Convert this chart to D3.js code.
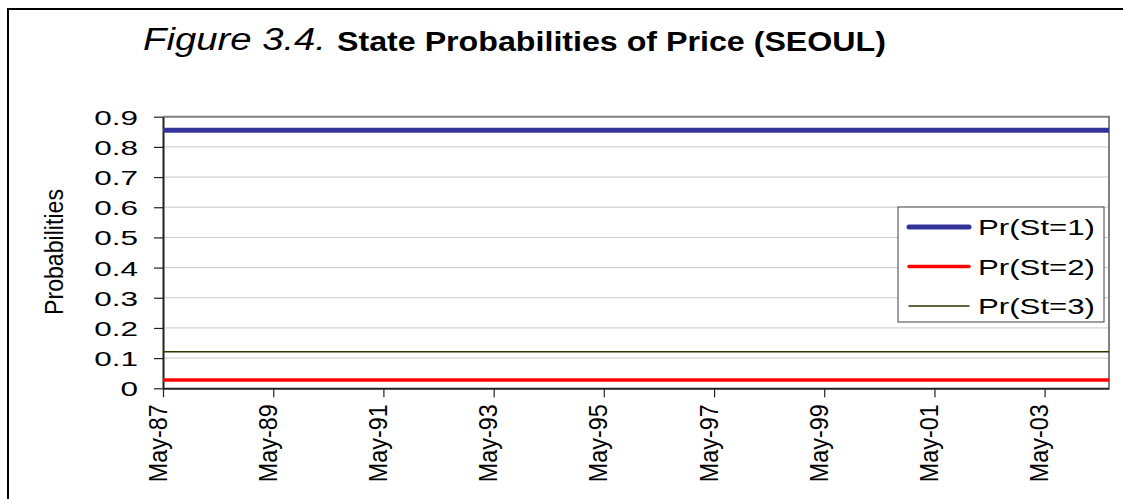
<!DOCTYPE html>
<html>
<head>
<meta charset="utf-8">
<script src="https://cdn.jsdelivr.net/npm/d3@7"></script>
<style>
  body { margin: 0; background: #fff; }
  svg { display: block; font-family: "Liberation Sans", Arial, sans-serif; }
</style>
</head>
<body>
<svg width="1123" height="499"></svg>
<script>
// data
const months = ["May-87", "Jul-04"];
const pr1 = [0.855, 0.855];
const pr2 = [0.0275, 0.0275];
const pr3 = [0.121, 0.121];
const seriesNames = ["Pr(St=1)", "Pr(St=2)", "Pr(St=3)"];
const xTickLabels = ["May-87", "May-89", "May-91", "May-93", "May-95", "May-97", "May-99", "May-01", "May-03"];
const yTicks = [0, 0.1, 0.2, 0.3, 0.4, 0.5, 0.6, 0.7, 0.8, 0.9];

const parse = d3.timeParse("%b-%y");
const svg = d3.select("svg");

const plotLeft = 163, plotRight = 1109, plotTop = 116.7, plotBottom = 388.3;

const x = d3.scaleTime()
  .domain([parse(months[0]), parse(months[months.length - 1])])
  .range([plotLeft, plotRight]);
const y = d3.scaleLinear().domain([0, 0.9]).range([plotBottom, plotTop]);

// outer frame
svg.append("rect")
  .attr("x", 8).attr("y", 9)
  .attr("width", 1130).attr("height", 510)
  .attr("fill", "#fff").attr("stroke", "#000").attr("stroke-width", 2);

// title
svg.append("text")
  .attr("x", 143).attr("y", 50)
  .attr("font-size", 31).attr("font-style", "italic")
  .attr("textLength", 183).attr("lengthAdjust", "spacingAndGlyphs")
  .text("Figure 3.4.");
svg.append("text")
  .attr("x", 337).attr("y", 51)
  .attr("font-size", 27).attr("font-weight", "bold")
  .attr("textLength", 549).attr("lengthAdjust", "spacingAndGlyphs")
  .text("State Probabilities of Price (SEOUL)");

// gridlines
svg.append("g")
  .selectAll("line")
  .data(yTicks.filter(d => d > 0 && d < 0.9))
  .join("line")
  .attr("x1", plotLeft).attr("x2", plotRight)
  .attr("y1", d => y(d)).attr("y2", d => y(d))
  .attr("stroke", "#c8c8c8").attr("stroke-width", 1);

// plot border top/right
svg.append("path")
  .attr("d", `M${plotLeft},${plotTop}H${plotRight}V${plotBottom}`)
  .attr("fill", "none").attr("stroke", "#808080").attr("stroke-width", 2);

// y axis
const yAxis = svg.append("g")
  .attr("transform", `translate(${plotLeft},0)`)
  .call(d3.axisLeft(y).tickValues(yTicks).tickSize(9).tickSizeOuter(0).tickFormat(d3.format("")));
yAxis.select(".domain").attr("stroke", "#222").attr("stroke-width", 2);
yAxis.selectAll(".tick line").attr("stroke", "#222").attr("stroke-width", 1.2);
yAxis.selectAll("text")
  .attr("x", null).attr("dy", null)
  .attr("transform", "translate(-25,7.5) scale(1.5,1)")
  .attr("font-size", 21).attr("fill", "#000")
  .attr("font-family", "Liberation Sans, Arial, sans-serif");

// x axis
const xAxis = svg.append("g")
  .attr("transform", `translate(0,${plotBottom})`)
  .call(d3.axisBottom(x).tickValues(xTickLabels.map(parse)).tickSize(9).tickSizeOuter(0).tickFormat(d3.timeFormat("%b-%y")));
xAxis.select(".domain").attr("stroke", "#222").attr("stroke-width", 2);
xAxis.selectAll(".tick line").attr("stroke", "#222").attr("stroke-width", 1.2);
xAxis.selectAll("text")
  .attr("y", null).attr("dy", null)
  .attr("text-anchor", "end")
  .attr("transform", "translate(3,16) rotate(-90)")
  .attr("font-size", 25).attr("fill", "#000")
  .attr("font-family", "Liberation Sans, Arial, sans-serif")
  .attr("textLength", 78).attr("lengthAdjust", "spacingAndGlyphs");

// y axis title
svg.append("text")
  .attr("transform", "translate(63,252) rotate(-90)")
  .attr("text-anchor", "middle")
  .attr("font-size", 25)
  .attr("textLength", 126).attr("lengthAdjust", "spacingAndGlyphs")
  .text("Probabilities");

// series lines
const series = [
  { name: seriesNames[0], values: pr1, color: "#333399", width: 5 },
  { name: seriesNames[1], values: pr2, color: "#ff0000", width: 3.5 },
  { name: seriesNames[2], values: pr3, color: "#333300", width: 1.5 }
];
const line = d3.line()
  .x((d, i) => x(parse(months[i])))
  .y(d => y(d));

svg.append("g")
  .selectAll("path")
  .data(series)
  .join("path")
  .attr("d", d => line(d.values))
  .attr("fill", "none")
  .attr("stroke", d => d.color)
  .attr("stroke-width", d => d.width);

// legend
const legend = svg.append("g");
legend.append("rect")
  .attr("x", 898).attr("y", 207)
  .attr("width", 206).attr("height", 115)
  .attr("fill", "#fff").attr("stroke", "#404040").attr("stroke-width", 1);
const item = legend.selectAll("g.item")
  .data(series)
  .join("g")
  .attr("class", "item")
  .attr("transform", (d, i) => `translate(0,${227 + i * 39.5})`);
item.append("line")
  .attr("x1", 909).attr("x2", 969)
  .attr("stroke", d => d.color)
  .attr("stroke-width", d => d.width)
  .attr("stroke-linecap", "round");
item.append("text")
  .attr("x", 978).attr("y", 8)
  .attr("font-size", 22)
  .attr("textLength", 117).attr("lengthAdjust", "spacingAndGlyphs")
  .text(d => d.name);
</script>
</body>
</html>
